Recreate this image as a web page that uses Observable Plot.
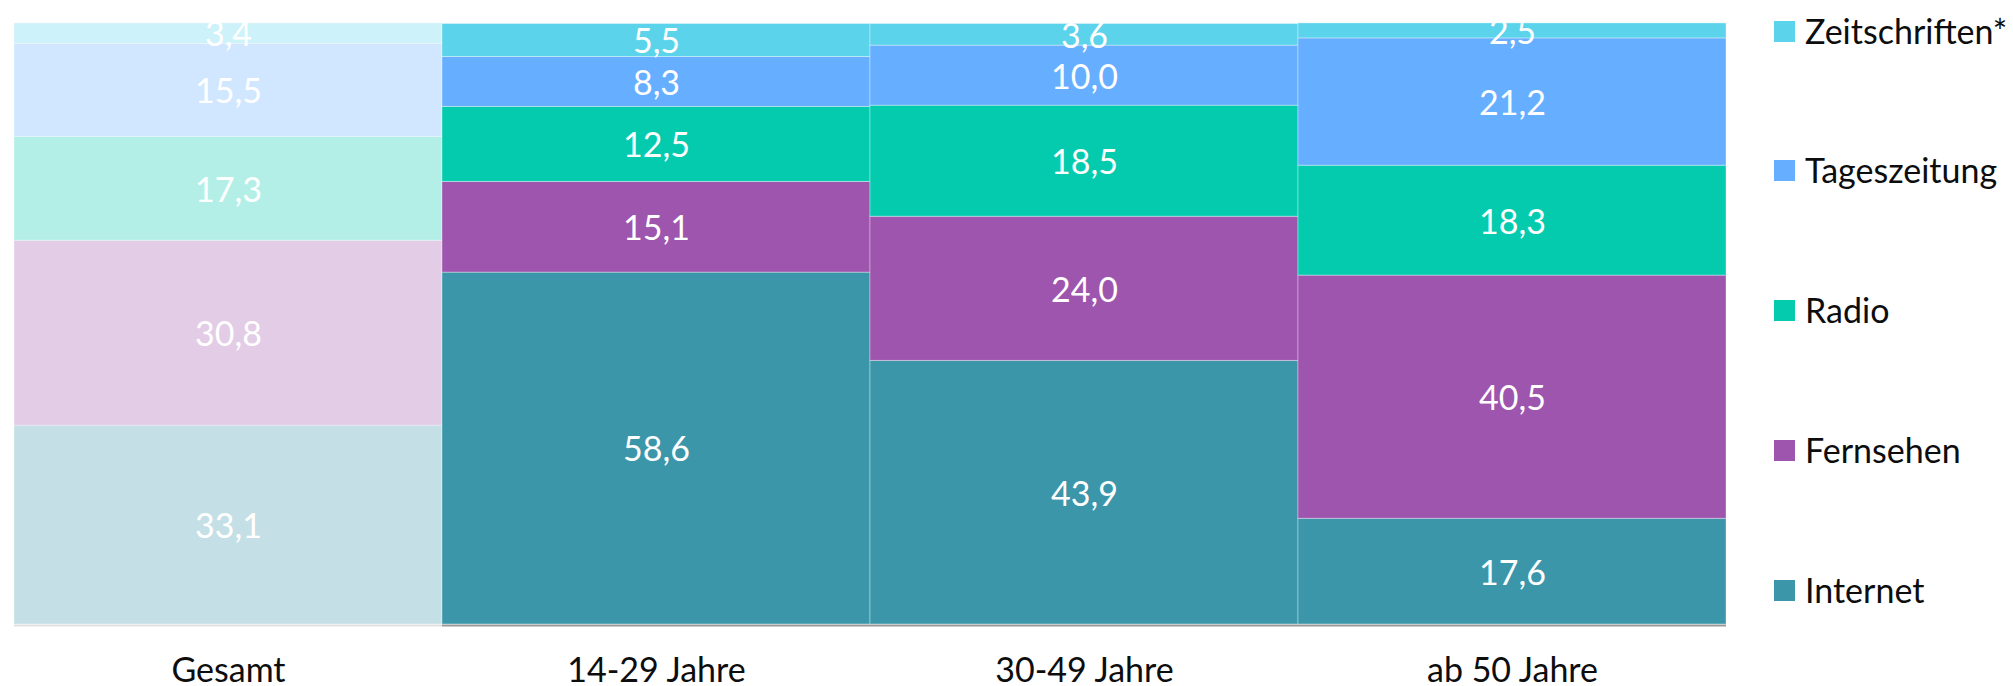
<!DOCTYPE html>
<html>
<head>
<meta charset="utf-8">
<script src="https://cdn.jsdelivr.net/npm/d3@7"></script>
<script src="https://cdn.jsdelivr.net/npm/@observablehq/plot@0.6"></script>
<style>
  html, body { margin: 0; padding: 0; background: #fff; }
  #wrap { position: relative; width: 2013px; height: 686px; font-family: Lato, "Open Sans", sans-serif; }
  #legend { position: absolute; left: 1774px; top: 0; }
  .li { position: absolute; left: 0; display: flex; align-items: center; white-space: nowrap; font-size: 34px; color: #0d0d0d; height: 40px; }
  .li span { position: relative; top: -1px; }
  .sw { width: 21px; height: 21px; margin-right: 10px; flex: none; }
</style>
</head>
<body>
<div id="wrap"><div id="legend"></div></div>
<script>
const categories = ["Gesamt", "14-29 Jahre", "30-49 Jahre", "ab 50 Jahre"];
const media = ["Internet", "Fernsehen", "Radio", "Tageszeitung", "Zeitschriften*"];
const internet      = [33.1, 58.6, 43.9, 17.6];
const fernsehen     = [30.8, 15.1, 24.0, 40.5];
const radio         = [17.3, 12.5, 18.5, 18.3];
const tageszeitung  = [15.5,  8.3, 10.0, 21.2];
const zeitschriften = [ 3.4,  5.5,  3.6,  2.5];
const colors = ["#3c96a9", "#9e55ad", "#05cbae", "#66aeff", "#5bd3ea"];

const series = [internet, fernsehen, radio, tageszeitung, zeitschriften];
const data = [];
categories.forEach((cat, i) => {
  media.forEach((m, j) => data.push({cat, medium: m, value: series[j][i]}));
});

const fmt = v => v.toFixed(1).replace(".", ",");

const chart = Plot.plot({
  width: 2013,
  height: 686,
  marginLeft: 13,
  marginRight: 286,
  marginTop: 23.5,
  marginBottom: 62,
  style: {fontFamily: "Lato, 'Open Sans', sans-serif", background: "transparent", overflow: "visible"},
  x: {domain: categories, padding: 0, label: null, tickSize: 0, tickPadding: 33, fontSize: 34},
  y: {domain: [0, 100], axis: null},
  color: {domain: media, range: colors},
  marks: [
    Plot.barY(data, {
      x: "cat", y: "value", fill: "medium",
      fillOpacity: d => d.cat === "Gesamt" ? 0.3 : 1,
      stroke: "white", strokeOpacity: 0.35, strokeWidth: 1
    }),
    Plot.text(data, Plot.stackY({
      x: "cat", y: "value", text: d => fmt(d.value),
      fill: "white", fontSize: 34, dy: 2
    })),
    Plot.tickY(categories, {
      x: d => d, y: () => 0, stroke: "#999",
      strokeOpacity: d => d === "Gesamt" ? 0.3 : 1, strokeWidth: 2, dy: 1
    })
  ]
});
chart.style.fontSize = "34px";
chart.querySelectorAll("g[aria-label='x-axis tick label']").forEach(e => e.setAttribute("fill", "#0d0d0d"));
document.getElementById("wrap").prepend(chart);

const legendCenters = {"Zeitschriften*": 31, "Tageszeitung": 170, "Radio": 310, "Fernsehen": 450, "Internet": 590};
const legend = document.getElementById("legend");
media.slice().reverse().forEach(m => {
  const row = document.createElement("div");
  row.className = "li";
  row.style.top = (legendCenters[m] - 20) + "px";
  const sw = document.createElement("div");
  sw.className = "sw";
  sw.style.background = colors[media.indexOf(m)];
  const t = document.createElement("span");
  t.textContent = m;
  row.append(sw, t);
  legend.append(row);
});
</script>
</body>
</html>
